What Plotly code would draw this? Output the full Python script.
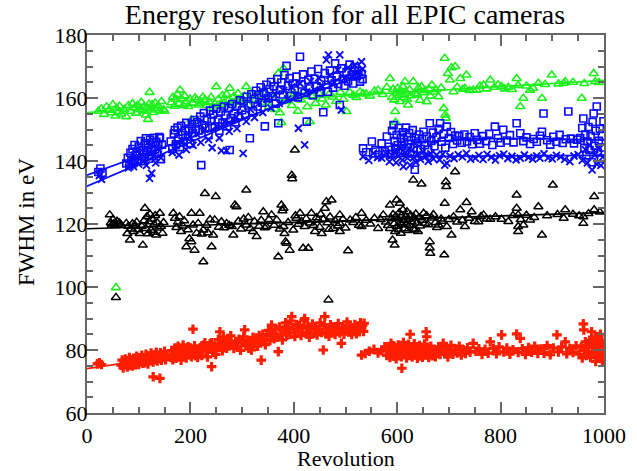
import plotly.graph_objects as go

# ---------------- data (revolution, FWHM in eV) ----------------
green_pts = [(22,155.8),(28,156.6),(33,154.8),(38,157.2),(42,156.1),(47,155.3),(50,157.9),(55,154.3),(57,156.8),(60,155.6),(63,157.4),(66,154.9),
(72,156.3),(76,154.1),(80,157.6),(84,155.8),(88,158.2),(92,156.9),(95,155.2),(98,157.7),
(102,156.4),(105,158.6),(108,155.9),(111,157.3),(114,154.6),(117,156.8),(118,153.2),(120,158.1),(121,161.8),(123,156.2),(126,157.9),(129,155.4),(132,158.4),(135,156.7),(138,157.5),(141,155.9),(144,158.9),(148,156.3),(150,155.8),
(163,158.5),(166,160.2),(169,157.4),(172,159.6),(175,161.1),(178,158.2),(180,162.5),(183,159.8),(186,157.6),(189,160.6),(192,158.9),(196,157.3),(199,159.7),(202,153.1),(205,158.4),(209,160.1),(212,159.4),(216,157.8),(220,158.9),
(224,160.3),(228,159.4),(232,157.6),(236,158.8),(240,160.2),(244,156.7),(247,158.1),(250,163.6),(254,159.6),(258,157.9),(262,160.8),(266,158.6),(270,161.2),(274,159.3),(276,163.1),(280,158.2),(284,160.5),(288,159.1),(292,161.4),(296,158.7),(299,159.9),
(305,160.6),(308,163.6),(312,157.8),(318,161.2),(325,159.3),(332,160.7),(338,158.6),(345,161.8),(352,157.2),(358,160.1),(364,156.4),(370,167.8),(373,155.3),(376,152.2),(380,169.4),(384,158.9),(390,160.8),(396,157.6),(402,161.3),(408,155.8),(414,159.4),(420,162.1),(426,157.2),(431,152.5),(436,160.4),(442,158.3),(448,161.6),(455,159.7),(462,157.8),(468,161.1),(475,160.3),(482,158.9),(490,161.8),(496,159.6),(502,155.7),(508,161.8),(515,160.9),(521,160.2),(528,162.0),(534,161.4),
(540,161.3),(547,160.6),(556,162.2),(563,162.5),(572,161.1),(580,163.4),(586,166.2),(590,160.2),(592,162.8),(594,159.4),(596,155.7),(597,152.3),(599,161.6),(601,163.1),(603,160.8),(605,158.9),(607,162.2),(609,161.1),(611,163.6),(613,160.1),(615,165.2),(617,161.9),(619,159.6),(621,157.8),(624,162.6),(627,160.7),(631,165.2),(634,161.4),(638,161.0),(641,163.2),(644,159.3),(647,163.6),(651,161.7),(654,162.4),(657,158.8),(661,162.9),(664,160.6),(667,164.1),(671,161.9),(675,162.6),(680,160.4),(685,163.2),
(690,156.7),(692,172.6),(693,154.6),(694,153.6),(698,167.8),(702,165.7),(705,169.6),(709,162.0),(712,170.0),(716,163.4),(722,166.2),(727,162.8),(731,163.1),(734,167.3),(740,162.4),(747,162.5),(754,162.5),(760,163.8),(767,164.1),
(773,162.9),(780,165.7),(788,163.4),(795,164.2),(802,163.6),(808,162.9),(815,163.4),(822,162.7),(831,166.2),(834,164.0),(838,157.3),(844,159.9),(850,163.8),(857,162.5),(863,163.1),(873,164.7),(880,159.9),(886,164.3),(899,167.3),(912,164.5),(922,164.7),(925,165.2),(940,165.0),(957,159.9),(962,164.6),(980,167.8),(983,165.2),(990,164.9),
(56,99.8)]

blue_sq_pts = [(22,136.5),(26,137.6),(30,136.2),
(76,139.2),(79,141.0),(82,138.4),(84,142.6),(86,140.1),(88,143.8),(90,139.6),(92,145.1),(94,141.7),(96,143.0),(98,140.3),(100,144.6),(102,142.1),(104,146.3),(106,139.9),(108,143.4),(110,141.2),(112,145.6),(114,147.2),(116,142.8),(118,144.1),(120,140.7),(122,146.8),(124,143.2),(126,141.5),(128,145.9),(130,147.4),(132,143.7),(134,146.1),(136,142.3),(138,144.9),(140,147.6),(141,147.2),(143,140.6),(145,145.2),
(162,146.2),(165,143.8),(168,148.7),(170,149.8),(172,145.3),(175,150.6),(177,147.1),(180,144.4),(182,151.2),(185,148.3),(187,146.0),(190,149.5),(192,152.1),(195,147.8),(197,150.3),(200,145.6),(203,151.7),(205,148.9),(208,153.0),(210,150.1),
(213,152.4),(216,149.7),(219,154.1),(221,138.7),(223,151.3),(226,155.2),(229,150.6),(232,153.4),(235,148.2),(238,156.0),(241,152.7),(244,154.8),(247,150.9),(250,156.6),(253,153.1),(256,149.6),(259,155.7),(262,152.2),(265,157.3),(268,154.5),(271,151.0),(274,156.8),(276,143.5),(278,153.6),(281,158.1),(284,155.0),(287,152.3),(290,157.5),(293,154.2),(296,159.3),
(300,156.1),(303,158.9),(306,154.7),(309,160.4),(312,157.6),(315,147.2),(318,161.2),(321,155.8),(324,159.7),(327,162.3),(330,157.3),(333,160.9),(336,163.4),(339,158.5),(342,161.7),(344,151.0),(347,164.2),(350,159.9),(353,162.8),(356,165.1),(359,160.6),(362,163.7),(365,158.2),(368,166.0),(370,152.0),(373,162.5),(376,164.9),(379,161.1),(382,167.2),(386,170.2),(389,163.8),(392,166.3),(395,160.7),(398,164.6),
(402,162.9),(405,166.8),(408,160.2),(412,173.1),(415,164.3),(418,167.5),(421,161.6),(425,152.5),(428,165.8),(431,163.0),(434,168.4),(437,160.9),(440,166.1),(444,163.7),(447,169.2),(450,161.8),(453,165.4),(457,155.5),(460,167.9),(463,164.2),(466,162.0),(470,168.7),(473,165.6),(476,163.3),(480,171.0),(483,166.8),(486,164.5),(489,157.8),(492,169.4),(495,166.0),(498,163.9),(502,168.2),(505,165.3),(508,170.6),(512,167.4),(515,164.6),(518,169.8),(522,166.9),(525,168.5),(528,165.2),(531,167.6),(533,166.0),
(534,144.0),(540,142.8),(551,146.2),(558,143.5),(565,141.9),(570,145.6),(576,143.0),(580,147.8),(584,144.5),(587,142.1),(590,149.6),(593,151.4),(595,146.3),(597,143.7),(599,148.2),(601,145.0),(603,150.5),(605,142.6),(607,147.4),(609,144.8),(611,149.1),(613,146.0),(615,143.2),(617,150.6),(619,147.7),(621,145.3),(623,148.9),(625,142.4),(627,146.6),(630,149.8),(632,144.1),(634,137.2),(636,147.2),(639,145.6),(642,148.4),(645,143.9),(648,146.9),(651,149.3),(654,145.1),(657,147.8),(660,143.6),(663,152.0),(666,146.4),(669,149.0),(672,144.7),(676,147.5),(680,150.2),(683,152.0),(686,146.1),(690,148.6),(693,144.2),(696,150.9),(700,147.3),(704,149.2),(708,145.4),(712,148.1),(716,146.5),(720,147.9),(725,145.8),(730,148.4),(735,146.2),(740,147.6),(745,145.3),(750,148.8),(755,146.7),(760,145.5),(766,147.9),(772,146.3),(778,148.6),(784,145.1),(789,150.9),(795,147.2),(800,145.8),(805,149.9),(812,146.5),(818,148.2),(825,145.9),(831,152.0),(838,148.8),(844,146.3),(850,147.5),(857,145.4),(864,147.0),(870,146.1),(876,148.0),(880,149.3),(883,155.1),(890,146.6),(896,145.2),(902,147.7),(908,146.1),(914,148.3),(920,145.7),(926,146.9),(931,155.7),(936,147.1),(942,145.6),(948,146.8),(954,147.3),(958,150.5),(960,153.5),(962,144.2),(964,148.4),(966,141.8),(968,146.2),(970,150.8),(972,143.5),(974,147.9),(976,139.6),(978,152.4),(980,155.1),(982,144.8),(984,149.6),(986,157.3),(988,142.7),(990,146.4),(992,150.2),(994,140.8),(996,148.0),(998,144.3),(999,152.6)]

blue_x_pts = [(24,135.4),(28,134.2),
(80,137.8),(85,139.5),(90,138.2),(95,141.3),(100,139.0),(105,142.2),(110,140.1),(115,138.6),(120,143.0),(121,134.5),(125,136.1),(128,141.6),(133,139.4),(138,143.8),(143,141.0),
(165,142.7),(172,144.9),(178,141.9),(185,146.4),(192,143.6),(198,147.8),(205,145.0),(212,148.6),(220,145.9),(228,150.2),(235,146.8),(242,144.2),(250,151.1),(256,147.3),(260,143.3),(266,152.5),(270,143.3),(275,149.4),(282,153.2),(290,150.3),(296,155.1),(302,142.4),
(308,152.6),(316,156.4),(324,153.8),(332,158.2),(340,155.4),(348,159.6),(356,156.8),(364,161.0),(372,158.3),(380,162.4),(388,159.7),(396,163.5),(404,160.8),(409,150.4),(412,164.6),(421,145.1),(425,161.9),(432,165.3),(440,162.6),(448,166.4),(455,163.7),(463,172.1),(467,173.7),(470,167.2),(478,164.8),(485,168.9),(489,173.7),(492,156.2),(498,166.3),(505,169.6),(512,167.0),(518,170.4),(524,168.1),(531,171.5),(533,169.2),
(534,141.4),(545,140.2),(554,142.5),(562,141.1),(570,140.9),(578,142.6),(585,139.8),(590,141.8),(595,143.2),(598,139.5),(602,141.6),(606,144.0),(610,140.3),(612,138.2),(616,142.7),(620,140.9),(625,138.7),(628,143.4),(632,141.2),(636,139.6),(640,142.1),(645,140.5),(650,143.0),(655,141.4),(660,139.9),(665,142.3),(670,140.7),(676,141.9),(682,140.4),(688,142.2),(692,138.7),(696,139.3),(702,141.6),(710,140.8),(718,142.0),(726,141.3),(734,142.4),(742,140.6),(751,140.9),(758,141.8),(766,140.5),(774,142.1),(782,141.2),(790,140.3),(798,141.7),(806,142.2),(814,140.8),(822,141.5),(830,140.4),(838,140.9),(846,141.9),(854,141.1),(862,140.6),(870,141.6),(876,140.9),(884,142.3),(892,141.0),(900,140.7),(908,141.8),(916,141.3),(924,140.5),(934,139.8),(942,141.6),(950,142.0),(958,140.2),(964,143.6),(968,139.4),(972,145.1),(977,137.2),(982,141.9),(986,139.0),(990,143.8),(994,138.6),(998,141.3)]

black_pts = [(44,122.9),(46,120.4),(48,119.7),(50,121.5),(52,120.1),(55,119.5),(56,96.7),(58,120.9),(60,119.8),(63,120.3),(66,119.6),
(76,120.2),(78,117.0),(80,119.3),(83,114.9),(85,118.4),(88,120.1),(90,117.6),(93,119.5),(96,120.6),(99,118.2),(102,117.0),
(106,119.3),(108,113.3),(110,121.0),(112,125.0),(114,118.6),(116,122.4),(118,116.9),(120,120.7),(122,123.1),(124,118.0),(126,121.6),(128,117.4),(130,119.9),(132,122.7),(134,116.5),(136,120.4),(138,118.7),(141,123.4),(143,119.2),(146,117.1),(148,120.5),
(167,123.4),(170,121.8),(173,118.9),(176,120.6),(179,122.3),(182,117.6),(185,119.4),(188,121.0),(192,112.8),(195,118.2),(198,115.3),(202,114.4),(202,123.4),(205,119.7),(208,111.7),(212,117.1),(215,120.2),(218,123.4),(222,116.8),(225,108.0),(225,118.1),(228,129.7),(231,119.6),(234,117.2),(238,121.4),(241,112.8),(244,116.5),(247,121.3),(249,128.7),
(255,119.0),(260,120.7),(265,118.8),(270,120.2),(275,119.6),(280,119.2),(283,116.5),(286,126.0),(289,125.5),(293,120.9),(298,118.4),(303,121.6),(308,130.8),(308,119.7),(312,122.1),(316,118.6),(321,117.6),(324,120.8),(328,116.0),(333,119.3),(337,121.2),(341,123.9),(344,118.8),(347,119.2),
(352,121.4),(357,122.9),(362,119.6),(367,121.3),(370,109.6),(373,118.4),(376,126.0),(378,124.2),(380,125.0),(380,119.2),(382,117.0),(384,114.4),(386,113.9),(389,120.5),(392,111.7),(396,135.5),(397,134.4),(399,118.1),(402,143.5),(403,122.6),(405,121.8),(409,119.9),(412,123.4),(415,120.8),(418,112.3),(421,119.2),(424,121.7),(428,112.3),(431,120.3),(434,123.4),(438,119.5),(441,117.6),(444,122.0),(447,121.3),(450,119.0),(452,123.1),(454,117.0),(457,121.5),(460,125.0),(463,127.1),(465,120.4),(467,95.9),(468,118.3),(470,122.2),(473,127.6),(476,118.6),
(480,121.0),(485,119.4),(489,122.9),(489,120.2),(489,117.6),(495,121.5),(500,118.7),(505,111.5),(509,121.3),(515,120.5),(520,122.1),(526,119.6),(531,123.4),(531,119.2),(540,121.2),(548,120.0),(556,121.8),(563,118.6),
(568,121.4),(573,122.9),(578,120.6),(582,119.5),(586,126.0),(586,118.6),(589,121.7),(591,114.9),(592,123.0),(594,120.1),(595,113.3),(596,117.6),(597,122.4),(599,127.6),(600,119.3),(601,121.8),(603,118.2),(604,123.6),(605,126.6),(606,120.4),(607,117.1),(608,122.7),(610,119.8),(611,124.5),(613,121.1),(614,118.5),(616,122.3),(617,120.0),(619,123.9),(620,117.9),(622,121.5),(624,119.6),(626,122.8),(628,120.7),(631,134.0),(631,118.4),(633,121.9),(634,118.1),(636,123.2),(638,120.3),(640,117.6),(642,122.0),(644,119.4),(647,132.7),(648,121.2),(651,123.4),(654,120.2),(657,122.6),(660,119.8),(663,114.4),(663,112.4),(664,110.7),(667,121.9),(670,123.0),(674,120.5),(677,118.9),(680,119.7),(685,121.6),(688,120.9),(691,110.2),(692,126.6),(694,133.4),(695,131.9),(696,119.2),
(700,121.4),(705,116.5),(709,122.3),(712,136.6),(716,120.6),(722,124.5),(726,121.2),(731,119.2),(734,126.8),(739,121.8),(744,123.9),(750,120.8),(757,120.7),(762,122.4),(767,122.9),(773,121.6),(780,121.5),(790,122.3),(802,121.5),(815,120.8),(824,122.7),(831,129.2),(831,125.0),(834,122.9),(834,119.2),(834,117.6),(839,121.4),(844,119.7),(850,122.8),(857,121.3),(865,122.1),(873,125.5),(880,116.5),(890,122.6),(901,132.4),(910,123.0),(922,121.8),(925,124.5),(940,123.1),(952,122.6),(960,122.3),(960,120.2),(970,123.3),(981,128.7),(981,124.5),(992,123.8)]

red_pts = [(20,75.6),(24,75.9),(28,75.4),
(66,75.2),(68,76.8),(70,74.3),(72,75.9),(74,77.1),(76,75.5),(78,74.6),(80,76.4),(82,77.6),(84,75.1),(86,76.8),(88,74.9),(90,77.4),(92,76.1),(94,75.3),(96,78.0),(98,76.6),(100,75.4),(102,77.5),(104,76.2),(106,78.3),(108,75.8),(110,77.1),(112,76.0),(114,78.6),(116,77.3),(118,75.6),(120,78.1),(122,76.7),(124,79.0),(126,77.5),(128,71.5),(128,76.2),(130,78.4),(132,77.0),(134,79.3),(136,76.5),(138,78.0),(140,77.2),(141,71.0),(142,79.1),(144,76.8),(146,78.5),(148,77.6),(150,79.6),(152,76.9),(155,78.2),
(162,77.6),(164,79.8),(166,76.9),(168,78.7),(170,80.6),(172,77.4),(174,79.3),(176,81.2),(178,78.1),(180,80.0),(182,76.8),(184,79.5),(186,81.6),(188,78.4),(190,80.3),(192,77.5),(194,79.8),(196,81.0),(198,78.6),(200,80.6),(202,77.9),(205,86.6),(206,79.4),(208,81.3),(210,78.2),(212,80.1),(214,77.6),
(216,79.0),(219,80.8),(222,78.3),(225,81.5),(228,82.3),(230,79.6),(233,77.8),(235,80.4),(238,82.0),(241,82.3),(241,74.7),(243,79.2),(246,81.1),(249,78.6),(251,80.9),(254,83.3),(257,85.8),(259,81.6),(262,79.8),(264,84.1),(267,82.2),(270,80.6),(272,83.6),(275,81.3),(278,84.5),(280,82.0),
(284,80.5),(288,82.7),(291,81.0),(294,83.4),(297,79.9),(300,82.2),(303,84.2),(305,86.4),(307,81.4),(310,83.0),(313,80.6),(316,82.5),(318,80.0),(321,84.0),(324,82.0),(327,83.8),(330,81.2),(333,84.6),(335,82.8),(337,76.8),(340,85.0),(342,83.2),(345,81.7),
(348,84.6),(351,86.2),(354,83.0),(357,87.9),(359,85.2),(362,83.6),(365,86.7),(368,84.1),(370,79.5),(372,87.3),(375,85.0),(378,83.2),(381,86.4),(384,88.6),(386,84.7),(389,87.1),(392,85.4),(394,89.2),(396,90.6),(399,86.6),(402,84.3),(405,88.1),(408,85.8),(411,87.8),(414,84.6),(417,86.9),(420,89.3),(421,90.0),(424,85.5),(427,87.5),(430,84.1),(433,86.8),(436,88.2),(439,85.3),
(442,87.4),(445,84.8),(448,86.3),(451,88.6),(454,85.6),(457,80.0),(459,87.8),(460,90.6),(462,85.1),(465,86.9),(468,84.4),(471,88.0),(474,85.9),(477,87.3),(480,84.9),(483,86.6),(486,88.4),(489,85.4),(492,82.1),(494,87.2),(497,85.0),(500,86.8),(503,88.9),(506,85.7),(509,87.5),(512,84.9),(515,86.4),(518,88.1),(521,85.2),(524,87.0),(527,85.8),(529,88.6),(531,86.9),(533,87.8),(535,85.9),(536,88.5),
(531,78.4),(538,78.9),(546,79.6),(555,80.2),(563,79.1),(570,79.8),(576,81.0),(580,78.3),(583,80.5),(586,77.6),(588,82.1),(590,79.4),(592,81.3),(594,78.0),(596,80.2),(598,77.2),(600,79.7),(602,81.6),(604,78.6),(606,80.9),(608,77.9),(609,74.2),(610,79.2),(612,82.4),(614,78.8),(616,80.6),(618,77.5),(620,79.9),(622,81.8),(624,78.3),(625,85.0),(627,80.3),(629,77.8),(631,79.6),(633,82.0),(635,78.5),(637,80.8),(639,77.4),(641,79.3),(643,81.4),(645,78.1),(647,80.1),(649,77.7),(651,79.8),(653,81.9),(655,78.4),(656,85.8),(657,84.2),(659,80.4),(661,77.6),(663,79.5),(665,81.2),(668,78.2),(671,80.0),(674,77.9),(677,79.4),(680,81.0),(683,78.6),(686,80.2),(689,82.1),(692,78.9),(695,80.6),(698,77.8),(701,79.7),(704,81.5),(708,78.7),(712,80.3),(716,79.1),(720,81.2),(724,78.4),(728,80.0),(732,78.9),(736,80.7),(741,79.3),(747,82.1),(752,79.6),(758,80.4),(764,78.6),(770,80.2),(776,79.0),(780,82.6),(786,80.5),(792,78.8),(797,81.0),(802,84.8),(806,79.4),(812,80.6),(818,78.7),(824,80.1),(831,85.1),(834,79.2),(838,83.7),(842,80.4),(848,78.6),(854,80.8),(860,79.3),(866,81.2),(872,78.9),(878,80.3),(884,79.0),(890,81.4),(896,78.5),(902,80.6),(909,84.8),(912,79.4),(918,81.0),(925,82.6),(928,78.8),(934,80.5),(940,79.2),(946,81.3),(952,78.7),(956,80.9),(958,77.5),(960,88.3),(961,86.4),(962,80.2),(964,82.6),(966,78.3),(968,81.5),(970,79.6),(972,83.1),(974,77.6),(976,85.8),(978,80.8),(980,78.9),(982,82.3),(984,76.4),(986,80.1),(988,84.2),(990,78.5),(992,81.7),(994,77.3),(996,83.0),(998,79.8),(999,81.9),(997,76.8),(993,85.0),(987,79.2),(983,84.0)]

# fitted trend lines
green_fit_x = [0, 400, 1000];              green_fit_y = [155.4, 159.7, 165.6]
blue_sq_fit1_x = [0, 535];                 blue_sq_fit1_y = [135.5, 167.5]
blue_x_fit1_x = [0, 535];                  blue_x_fit1_y = [132.0, 169.5]
blue_sq_fit2_x = [545, 650, 750, 850, 1000]; blue_sq_fit2_y = [143.8, 146.0, 147.0, 147.2, 146.6]
blue_x_fit2_x = [545, 1000];               blue_x_fit2_y = [141.3, 141.8]
black_fit_x = [0, 1000];                   black_fit_y = [118.5, 123.6]
red_fit1_x = [0, 535];                     red_fit1_y = [74.1, 87.2]
red_fit2a_x = [540, 1000];                 red_fit2a_y = [80.2, 81.0]
red_fit2b_x = [540, 1000];                 red_fit2b_y = [79.0, 79.6]

GREEN = '#1ef01e'
BLUE = '#0a0aff'
BLACK = '#000000'
RED = '#ff1e00'

def xs(p): return [a for a, b in p]
def ys(p): return [b for a, b in p]

fig = go.Figure()

def pts(p, color, symbol, size, lw):
    fig.add_trace(go.Scatter(x=xs(p), y=ys(p), mode='markers',
        marker=dict(symbol=symbol, size=size, color=color,
                    line=dict(color=color, width=lw))))

def line(x, y, color, w=1.7):
    fig.add_trace(go.Scatter(x=x, y=y, mode='lines', line=dict(color=color, width=w)))

pts(green_pts, GREEN, 'triangle-up-open', 8, 1.6)
line(green_fit_x, green_fit_y, GREEN)
pts(blue_sq_pts, BLUE, 'square-open', 7, 1.6)
pts(blue_x_pts, BLUE, 'x-thin-open', 7, 1.9)
line(blue_sq_fit1_x, blue_sq_fit1_y, BLUE)
line(blue_x_fit1_x, blue_x_fit1_y, BLUE)
line(blue_sq_fit2_x, blue_sq_fit2_y, BLUE)
line(blue_x_fit2_x, blue_x_fit2_y, BLUE)
pts(black_pts, BLACK, 'triangle-up-open', 8, 1.5)
line(black_fit_x, black_fit_y, BLACK)
pts(red_pts, RED, 'cross', 8, 0)
line(red_fit1_x, red_fit1_y, RED)
line(red_fit2a_x, red_fit2a_y, RED, 1.2)
line(red_fit2b_x, red_fit2b_y, RED, 1.2)

AX = '#666666'
FONT = 'Liberation Serif, Times New Roman, serif'
common = dict(showgrid=False, zeroline=False, showline=True, linecolor=AX, linewidth=2,
              mirror='allticks', ticks='inside', ticklen=11, tickwidth=1.5, tickcolor=AX,
              automargin=False,
              tickfont=dict(family=FONT, size=22, color='black'))

PLOT_L, PLOT_T, PLOT_W, PLOT_H = 87, 35, 517, 378

fig.update_layout(
    width=637, height=471,
    margin=dict(l=PLOT_L, r=637 - PLOT_L - PLOT_W, t=PLOT_T, b=471 - PLOT_T - PLOT_H),
    plot_bgcolor='white', paper_bgcolor='white',
    showlegend=False,
    font=dict(family=FONT, size=22, color='black'),
    title=dict(text='Energy resolution for all EPIC cameras', x=345/637, xanchor='center',
               xref='container', y=1-14/471, yanchor='middle',
               font=dict(family=FONT, size=28, color='black')),
    annotations=[
        dict(text='Revolution', xref='paper', yref='paper', x=0.5, y=-(458 - PLOT_T - PLOT_H) / PLOT_H,
             xanchor='center', yanchor='middle', showarrow=False,
             font=dict(family=FONT, size=22, color='black')),
        dict(text='FWHM in eV', xref='paper', yref='paper', x=(27 - PLOT_L) / PLOT_W,
             y=(PLOT_T + PLOT_H - 222) / PLOT_H, textangle=-90,
             xanchor='center', yanchor='middle', showarrow=False,
             font=dict(family=FONT, size=23, color='black')),
    ],
)
fig.update_xaxes(range=[0, 1000], tick0=0, dtick=200, ticklabelstandoff=2,
                 minor=dict(dtick=50, ticks='inside', ticklen=6, tickwidth=1.5, tickcolor=AX, showgrid=False),
                 **common)
fig.update_yaxes(range=[60, 180], tick0=60, dtick=20, ticklabelstandoff=-7,
                 minor=dict(dtick=5, ticks='inside', ticklen=6, tickwidth=1.5, tickcolor=AX, showgrid=False),
                 **common)

fig.write_html('out.html')
